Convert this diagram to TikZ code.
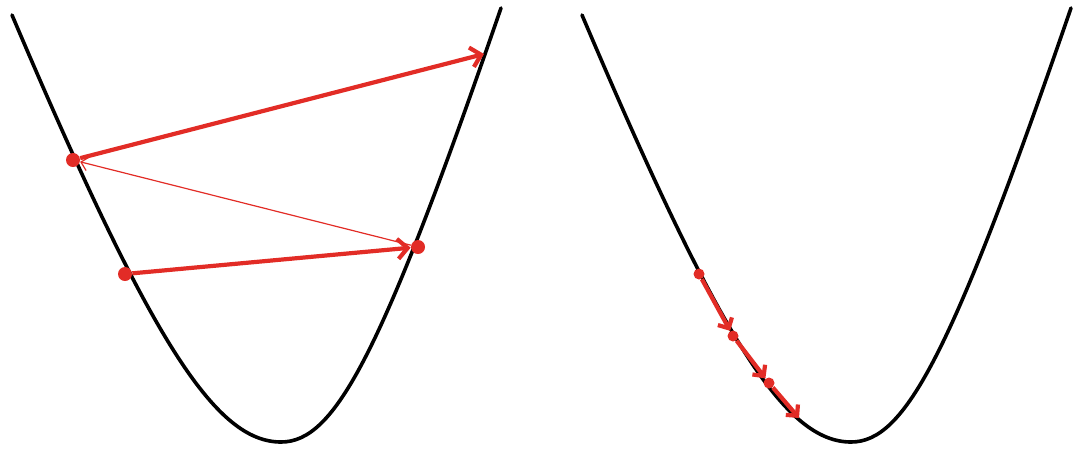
\documentclass[tikz,border=0pt]{standalone}
\usepackage{tikz}
\usetikzlibrary{arrows,arrows.meta}
\definecolor{stepred}{RGB}{226,44,38}
\tikzstyle{every picture}=[> = to]
\tikzset{
  valley/.style={line width=1.8pt,black,line cap=round},
  iterate/.style={circle,fill=stepred,inner sep=0pt,minimum size=7pt},
  bigstep/.style={line width=2.1pt,stepred,-{Straight Barb[length=5pt,width=10pt]}},
  smallstep/.style={line width=0.6pt,stepred,-{Straight Barb[length=3.5pt,width=7pt]}},
}
\begin{document}
\begin{tikzpicture}[x=0.5pt,y=-0.5pt]
    \useasboundingbox (0,0) rectangle (1074,451);
    % large step size: the iterates jump across the valley
    \draw[valley] (12,15) .. controls (150,340) and (215,442) .. (281,442)
                          .. controls (335,442) and (381,356) .. (501,8);
    \node[iterate] (x0) at (125,274) {};
    \node[iterate] (x1) at (418,247) {};
    \node[iterate] (x2) at (73,160) {};
    \coordinate (x3) at (484,54);
    \draw[bigstep] (x0) to (x1);
    \draw[smallstep] (x1) to (x2);
    \draw[bigstep] (x2) to (x3);
    % small step size: slow descent along one side
    \draw[valley,shift={(570,0)}] (12,15) .. controls (150,340) and (215,442) .. (281,442)
                          .. controls (335,442) and (381,356) .. (501,8);
    \node[iterate,minimum size=5.5pt] (y0) at (699,274) {};
    \node[iterate,minimum size=5.5pt] (y1) at (733,336) {};
    \node[iterate,minimum size=5.5pt] (y2) at (769,383) {};
    \coordinate (y3) at (799,418);
    \draw[bigstep,-{Straight Barb[length=4pt,width=8pt]}] (y0) to (y1);
    \draw[bigstep,-{Straight Barb[length=4pt,width=8pt]}] (y1) to (y2);
    \draw[bigstep,-{Straight Barb[length=4pt,width=8pt]}] (y2) to (y3);
  \end{tikzpicture}
\end{document}
